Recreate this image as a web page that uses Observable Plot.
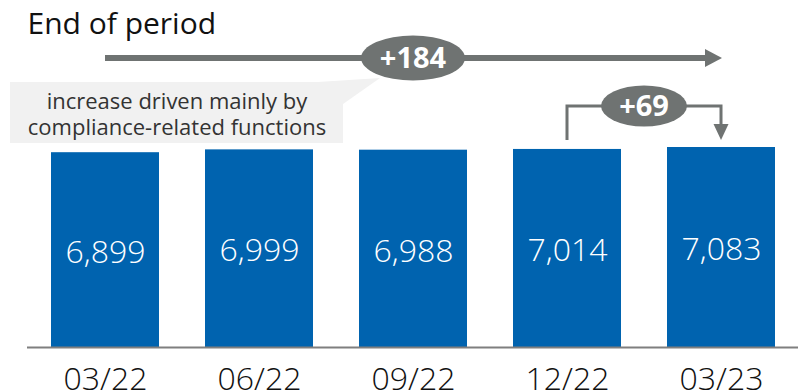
<!DOCTYPE html>
<html><head><meta charset="utf-8">
<script src="https://cdn.jsdelivr.net/npm/d3@7"></script>
<script src="https://cdn.jsdelivr.net/npm/@observablehq/plot@0.6"></script>
<style>html,body{margin:0;padding:0;background:#fff} svg{display:block}</style>
</head><body><div id="chart"></div>
<script>
// ---- data ----
const periods = ["03/22", "06/22", "09/22", "12/22", "03/23"];
const employees = [6899, 6999, 6988, 7014, 7083];
const title = "End of period";
const calloutLines = ["increase driven mainly by", "compliance-related functions"];

// ---- derived ----
const rows = periods.map((p, i) => ({period: p, value: employees[i]}));
const n = periods.length;
const totalChange = employees[n - 1] - employees[0];
const qoqChange = employees[n - 1] - employees[n - 2];
const fmt = d3.format(",");
const fmtDelta = d3.format("+,");

// ---- layout / style ----
const W = 810, H = 392, mT = 147, mB = 45, mL = 27, mR = 12;
const GRAY = "#6f7372", BLUE = "#0063af", BOX = "#f1f1f1";
const FONT = "'Open Sans', 'DejaVu Sans', sans-serif";
const arrowY = 58, bracketY = 106, bracketBottom = 140;

function annotations(index, scales) {
  const x = scales.x, bw = x.bandwidth ? x.bandwidth() : 0;
  const cx = p => x(p) + bw / 2;
  const g = d3.create("svg:g");
  // callout box with pointer
  g.append("rect").attr("x", 10).attr("y", 82).attr("width", 333).attr("height", 61).attr("fill", BOX);
  g.append("path").attr("d", "M318,82 L380,78 L343,104 Z").attr("fill", BOX);
  // big arrow spanning first -> last period
  const a1 = cx(periods[0]), a2 = cx(periods[n - 1]) + 1;
  g.append("line").attr("x1", a1).attr("x2", a2 - 14).attr("y1", arrowY).attr("y2", arrowY)
    .attr("stroke", GRAY).attr("stroke-width", 6);
  g.append("path").attr("d", `M${a2},${arrowY} L${a2 - 17},${arrowY - 9} L${a2 - 17},${arrowY + 9} Z`).attr("fill", GRAY);
  // oval for total change
  const o1 = cx(periods[Math.floor(n / 2)]);
  g.append("ellipse").attr("cx", o1).attr("cy", arrowY).attr("rx", 52).attr("ry", 22.5).attr("fill", GRAY);
  g.append("text").attr("x", o1).attr("y", arrowY).attr("dy", "0.36em").attr("text-anchor", "middle")
    .attr("fill", "white").attr("font-weight", "bold").attr("font-size", 29).attr("font-family", FONT)
    .text(fmtDelta(totalChange));
  // bracket for last quarter change
  const b1 = cx(periods[n - 2]), b2 = cx(periods[n - 1]);
  g.append("path").attr("d", `M${b1},${bracketBottom} V${bracketY} H${b2} V${bracketBottom - 15}`)
    .attr("fill", "none").attr("stroke", GRAY).attr("stroke-width", 3);
  g.append("path").attr("d", `M${b2},${bracketBottom} L${b2 - 7.5},${bracketBottom - 16} L${b2 + 7.5},${bracketBottom - 16} Z`).attr("fill", GRAY);
  const o2 = (b1 + b2) / 2;
  g.append("ellipse").attr("cx", o2).attr("cy", bracketY).attr("rx", 43).attr("ry", 20.5).attr("fill", GRAY);
  g.append("text").attr("x", o2).attr("y", bracketY).attr("dy", "0.36em").attr("text-anchor", "middle")
    .attr("fill", "white").attr("font-weight", "bold").attr("font-size", 29).attr("font-family", FONT)
    .text(fmtDelta(qoqChange));
  return g.node();
}

const chart = Plot.plot({
  width: W, height: H,
  marginTop: mT, marginBottom: mB, marginLeft: mL, marginRight: mR,
  style: {fontFamily: FONT, background: "white"},
  x: {domain: periods, paddingInner: 0.3, paddingOuter: 0.15},
  y: {domain: [0, d3.max(employees)], axis: null},
  marks: [
    annotations,
    Plot.barY(rows, {x: "period", y: "value", fill: BLUE}),
    Plot.ruleY([0], {stroke: "#7f7f7f", strokeWidth: 2}),
    Plot.text(rows, {x: "period", y: d => d.value / 2, text: d => fmt(d.value), fill: "white",
      fontSize: 32, fontWeight: 300, dy: 2.5}),
    Plot.axisX({tickSize: 0, tickPadding: 20, fontSize: 32, fontWeight: 300, label: null, color: "#111"}),
    Plot.text([title], {frameAnchor: "top-left", lineAnchor: "middle", dy: 23.5 - mT, textAnchor: "start",
      fontSize: 30, fill: "#111"}),
    Plot.text([calloutLines[0]], {frameAnchor: "top-left", lineAnchor: "middle", dx: 176.5 - mL,
      dy: 101 - mT, textAnchor: "middle", fontSize: 22, fill: "#333"}),
    Plot.text([calloutLines[1]], {frameAnchor: "top-left", lineAnchor: "middle", dx: 176.5 - mL,
      dy: 127 - mT, textAnchor: "middle", fontSize: 22, fill: "#333"})
  ]
});
document.getElementById("chart").append(chart);
</script>
</body></html>
